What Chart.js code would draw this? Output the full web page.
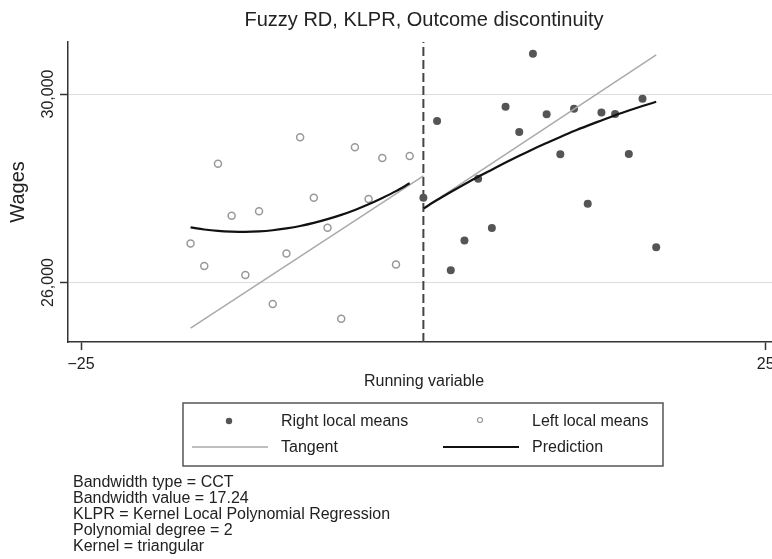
<!DOCTYPE html>
<html>
<head>
<meta charset="utf-8">
<script src="https://cdn.jsdelivr.net/npm/chart.js@4/dist/chart.umd.min.js"></script>
<style>
    html, body { margin: 0; padding: 0; background: #fff; overflow: hidden; width: 772px; height: 559px; }
    #grafica { display: block; }
</style>
</head>
<body>
<!-- el lienzo es algo más ancho que la ventana: el eje X sigue hasta el borde y el "25" queda recortado -->
<canvas id="grafica" width="780" height="559"></canvas>
<script>
const FUENTE = "'Liberation Sans', Arial, Helvetica, sans-serif";

// --- DATOS ---
const tituloGrafica = 'Fuzzy RD, KLPR, Outcome discontinuity';
const leftX = [-17, -16, -15, -14, -13, -12, -11, -10, -9, -8, -7, -6, -5, -4, -3, -2, -1];
const leftMeans = [26830, 26350, 28520, 27415, 26160, 27515, 25545, 26615, 29085, 27800, 27160, 25230, 28870, 27775, 28645, 26385, 28685];
const rightX = [0, 1, 2, 3, 4, 5, 6, 7, 8, 9, 10, 11, 12, 13, 14, 15, 16, 17];
const rightMeans = [27800, 29425, 26260, 26890, 28200, 27155, 29730, 29195, 30855, 29570, 28720, 29690, 27670, 29610, 29575, 28725, 29900, 26750];
const predLeft = [27170, 27125, 27095, 27080, 27075, 27085, 27110, 27150, 27200, 27265, 27345, 27435, 27540, 27660, 27795, 27940, 28105];
const predRight = [27570, 27750, 27920, 28085, 28245, 28395, 28545, 28690, 28830, 28960, 29090, 29215, 29330, 29440, 29550, 29650, 29745, 29835];
const tangentLeftX = [-17, 0];
const tangentLeftY = [25035, 28265];
const tangentRightX = [0, 17];
const tangentRightY = [27570, 30830];
const cutoff = 0;
const xTicks = [-25, 25];
const yTicks = [26000, 30000];
const X_MIN = -25.95, X_MAX = 26.04;
const Y_MIN = 24738, Y_MAX = 31104;
const notas = [
    'Bandwidth type = CCT',
    'Bandwidth value = 17.24',
    'KLPR = Kernel Local Polynomial Regression',
    'Polynomial degree = 2',
    'Kernel = triangular'
];

const puntos = (xs, ys) => xs.map((x, i) => ({ x, y: ys[i] }));

// --- Título, etiquetas del eje Y, leyenda y notas ---
const decoraciones = {
    id: 'decoraciones',
    afterDraw(chart) {
        const { ctx, scales: { y } } = chart;
        ctx.save();
        ctx.fillStyle = '#222';

        ctx.font = `20px ${FUENTE}`;
        ctx.textAlign = 'center';
        ctx.textBaseline = 'alphabetic';
        ctx.fillText(tituloGrafica, 424, 26);

        ctx.font = `16px ${FUENTE}`;
        yTicks.forEach(v => {
            ctx.save();
            ctx.translate(53, y.getPixelForValue(v));
            ctx.rotate(-Math.PI / 2);
            ctx.fillText(v.toLocaleString('en-US'), 0, 0);
            ctx.restore();
        });

        // leyenda
        ctx.strokeStyle = '#555';
        ctx.lineWidth = 1.5;
        ctx.strokeRect(183, 403, 480, 63);

        ctx.fillStyle = '#555';
        ctx.beginPath(); ctx.arc(229, 421, 3.2, 0, Math.PI * 2); ctx.fill();
        ctx.strokeStyle = '#999';
        ctx.lineWidth = 1.2;
        ctx.beginPath(); ctx.arc(480, 420, 2.5, 0, Math.PI * 2); ctx.stroke();

        ctx.strokeStyle = '#aaa';
        ctx.lineWidth = 1.5;
        ctx.beginPath(); ctx.moveTo(192, 447); ctx.lineTo(268, 447); ctx.stroke();
        ctx.strokeStyle = '#111';
        ctx.lineWidth = 2;
        ctx.beginPath(); ctx.moveTo(443, 447); ctx.lineTo(519, 447); ctx.stroke();

        ctx.fillStyle = '#222';
        ctx.textAlign = 'left';
        ctx.fillText('Right local means', 281, 426);
        ctx.fillText('Left local means', 532, 426);
        ctx.fillText('Tangent', 281, 452);
        ctx.fillText('Prediction', 532, 452);

        // notas
        notas.forEach((t, i) => ctx.fillText(t, 73, 487 + i * 16));
        ctx.restore();
    }
};

new Chart(document.getElementById('grafica'), {
    type: 'scatter',
    data: {
        datasets: [
            { type: 'line', data: puntos(leftX, predLeft), borderColor: '#111', borderWidth: 2.2, pointRadius: 0, cubicInterpolationMode: 'monotone' },
            { type: 'line', data: puntos(rightX, predRight), borderColor: '#111', borderWidth: 2.2, pointRadius: 0, cubicInterpolationMode: 'monotone' },
            { type: 'line', data: puntos(tangentLeftX, tangentLeftY), borderColor: '#aaa', borderWidth: 1.5, pointRadius: 0 },
            { type: 'line', data: puntos(tangentRightX, tangentRightY), borderColor: '#aaa', borderWidth: 1.5, pointRadius: 0 },
            { data: puntos(rightX, rightMeans), pointRadius: 4, backgroundColor: '#555', borderColor: '#555', borderWidth: 0 },
            { data: puntos(leftX, leftMeans), pointRadius: 3.5, backgroundColor: '#fff', borderColor: '#999', borderWidth: 1.5 },
            { type: 'line', data: [{ x: cutoff, y: Y_MIN }, { x: cutoff, y: Y_MAX }], borderColor: '#444', borderWidth: 2, borderDash: [9, 4], pointRadius: 0 }
        ]
    },
    options: {
        responsive: false,
        animation: false,
        devicePixelRatio: 1,
        layout: { autoPadding: false, padding: { top: 42, bottom: 167, left: 0, right: 0 } },
        plugins: { legend: { display: false }, tooltip: { enabled: false }, title: { display: false } },
        scales: {
            x: {
                type: 'linear',
                min: X_MIN,
                max: X_MAX,
                afterBuildTicks: s => { s.ticks = xTicks.map(v => ({ value: v })); },
                afterFit: s => { s.height = 50; s.paddingLeft = 0; s.paddingRight = 0; },
                ticks: {
                    color: '#222',
                    font: { family: FUENTE, size: 16 },
                    padding: 5,
                    maxRotation: 0,
                    callback: v => v < 0 ? '\u2212' + Math.abs(v) : String(v)
                },
                grid: { drawOnChartArea: false, drawTicks: true, tickLength: 8, tickColor: '#333', tickWidth: 1.5 },
                border: { color: '#333', width: 1.5 },
                title: { display: true, text: 'Running variable', color: '#222', font: { family: FUENTE, size: 16 }, padding: { top: 0, bottom: 1 } }
            },
            y: {
                type: 'linear',
                min: Y_MIN,
                max: Y_MAX,
                afterBuildTicks: s => { s.ticks = yTicks.map(v => ({ value: v })); },
                afterFit: s => { s.width = 68; s.paddingTop = 0; s.paddingBottom = 0; },
                ticks: { display: false },
                grid: { color: '#dcdcdc', lineWidth: 1, drawTicks: true, tickLength: 8, tickColor: '#333', tickWidth: 1.5 },
                border: { color: '#333', width: 1.5 },
                title: { display: true, text: 'Wages', color: '#222', font: { family: FUENTE, size: 20 }, padding: { top: 6, bottom: 0 } }
            }
        }
    },
    plugins: [decoraciones]
});
</script>
</body>
</html>
